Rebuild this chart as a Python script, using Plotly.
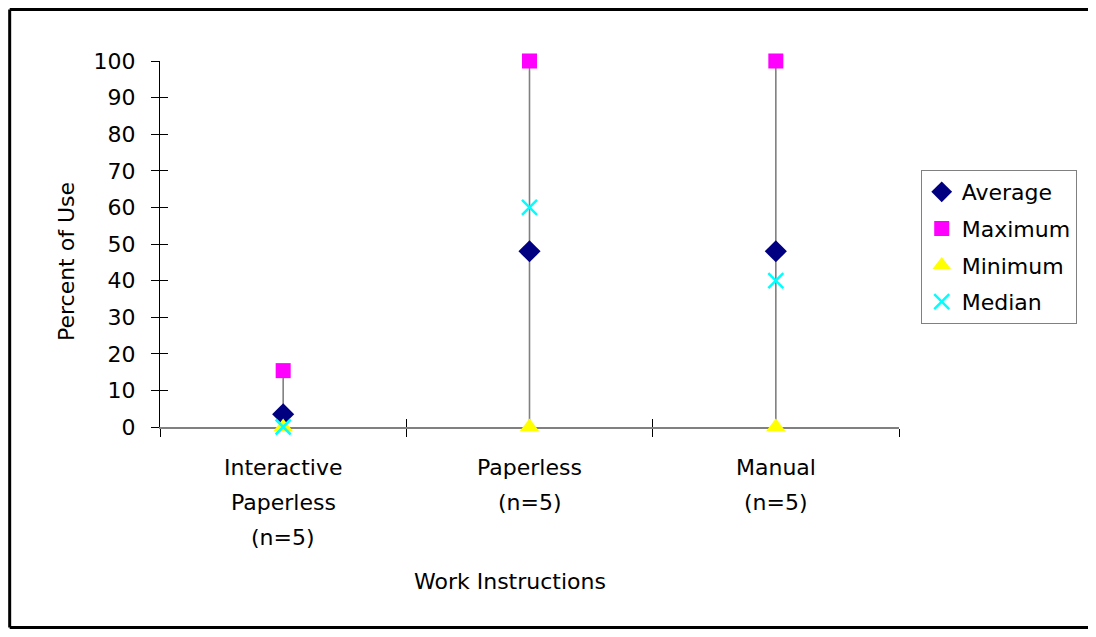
import plotly.graph_objects as go

categories = ["Interactive Paperless (n=5)", "Paperless (n=5)", "Manual (n=5)"]
category_lines = [["Interactive", "Paperless", "(n=5)"], ["Paperless", "(n=5)"], ["Manual", "(n=5)"]]
average = [3.5, 48, 48]
maximum = [15.4, 100, 100]
minimum = [0, 0, 0]
median = [0, 60, 40]
y_ticks = list(range(0, 101, 10))

FONT = "DejaVu Sans"
FS = 22

fig = go.Figure()

# high-low lines (main axes, drawn underneath)
hx, hy = [], []
for c, lo, hi in zip(categories, minimum, maximum):
    hx += [c, c, None]
    hy += [lo, hi, None]
fig.add_trace(go.Scatter(x=hx, y=hy, mode="lines", line=dict(color="#808080", width=1.6),
                         showlegend=False, hoverinfo="skip", xaxis="x", yaxis="y"))

fig.add_trace(go.Scatter(x=categories, y=average, mode="markers", name="Average", legendgroup="a",
                         marker=dict(symbol="diamond", size=17, color="#000080"), xaxis="x2", yaxis="y2"))
fig.add_trace(go.Scatter(x=categories, y=maximum, mode="markers", name="Maximum", legendgroup="b",
                         marker=dict(symbol="square", size=15, color="#FF00FF"), xaxis="x2", yaxis="y2"))
fig.add_trace(go.Scatter(x=categories, y=minimum, mode="markers", name="Minimum", legendgroup="c",
                         marker=dict(symbol="triangle-up", size=17, color="#FFFF00"), xaxis="x2", yaxis="y2"))
fig.add_trace(go.Scatter(x=categories, y=median, mode="markers", name="Median", legendgroup="d",
                         marker=dict(symbol="x-thin", size=15, color="#00FFFF",
                                     line=dict(width=2.5, color="#00FFFF")), xaxis="x2", yaxis="y2"))

annotations = []
for c, lines in zip(categories, category_lines):
    for i, ln in enumerate(lines):
        annotations.append(dict(x=c, xref="x", y=-0.11 - i * 0.0956, yref="paper", text=ln,
                                showarrow=False, font=dict(family=FONT, size=FS, color="#000000"),
                                xanchor="center", yanchor="middle"))
annotations.append(dict(x=0.473, xref="paper", y=-0.421, yref="paper", text="Work Instructions",
                        showarrow=False, font=dict(family=FONT, size=FS, color="#000000"),
                        xanchor="center", yanchor="middle"))
annotations.append(dict(x=-0.1257, xref="paper", y=0.451, yref="paper", text="Percent of Use",
                        textangle=-90, showarrow=False, font=dict(family=FONT, size=FS, color="#000000"),
                        xanchor="center", yanchor="middle"))

fig.update_layout(
    width=1080, height=621,
    margin=dict(l=152, r=188, t=53, b=202),
    paper_bgcolor="white", plot_bgcolor="white",
    font=dict(family=FONT, size=FS, color="#000000"),
    xaxis=dict(type="category", categoryorder="array", categoryarray=categories,
               range=[-0.5, 2.5], showticklabels=False, ticks="outside", tickson="boundaries",
               ticklen=8, tickwidth=1.3, tickcolor="#000000", showline=True, linecolor="#808080",
               linewidth=2, showgrid=False, zeroline=False, layer="below traces"),
    xaxis2=dict(type="category", categoryorder="array", categoryarray=categories, overlaying="x",
                range=[-0.5, 2.5], showticklabels=False, ticks="inside", tickson="boundaries",
                ticklen=8, tickwidth=1.3, tickcolor="#000000", showline=False, showgrid=False,
                zeroline=False, side="bottom", layer="below traces"),
    yaxis=dict(range=[0, 100], tickvals=y_ticks, ticks="outside", ticklen=8, tickwidth=1.3,
               tickcolor="#000000", showline=True, linecolor="#000000", linewidth=1.3,
               showgrid=False, zeroline=False, ticklabelstandoff=11, layer="below traces",
               tickfont=dict(family=FONT, size=FS, color="#000000")),
    yaxis2=dict(range=[0, 100], tickvals=y_ticks, overlaying="y", side="left", ticks="inside",
                ticklen=8, tickwidth=1.3, tickcolor="#000000", showticklabels=False,
                showline=False, showgrid=False, zeroline=False, layer="below traces"),
    legend=dict(x=1.028, y=0.702, xanchor="left", yanchor="top", bordercolor="#808080",
                borderwidth=1, bgcolor="white", font=dict(family=FONT, size=FS, color="#000000"),
                traceorder="grouped", tracegroupgap=5, itemwidth=30),
    annotations=annotations,
    showlegend=True,
)

for tr in fig.data:
    tr.cliponaxis = False

# outer chart border (left, top, bottom)
border = dict(color="#000000", width=3)
fig.add_shape(type="line", xref="paper", yref="paper", x0=-0.2034, x1=-0.2034, y0=-0.548, y1=1.1407, line=border)
fig.add_shape(type="line", xref="paper", yref="paper", x0=-0.2034, x1=1.3, y0=1.1407, y1=1.1407, line=border)
fig.add_shape(type="line", xref="paper", yref="paper", x0=-0.2034, x1=1.3, y0=-0.548, y1=-0.548, line=border)

fig.write_html("out.html")
